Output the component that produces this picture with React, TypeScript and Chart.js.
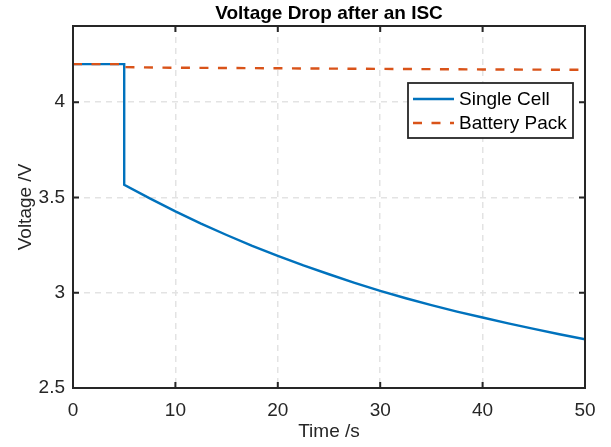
import React, { useEffect, useRef } from "react";
import { Chart, registerables } from "chart.js";

Chart.register(...registerables);

const chartTitle = "Voltage Drop after an ISC";
const xAxisTitle = "Time /s";
const yAxisTitle = "Voltage /V";
const seriesLabels = ["Single Cell", "Battery Pack"];

const cellTime = [0, 5, 5, 7.5, 10, 12.5, 15, 17.5, 20, 22.5, 25, 27.5, 30, 32.5, 35, 37.5, 40, 42.5, 45, 47.5, 50];
const cellVoltage = [4.2, 4.2, 3.567, 3.495, 3.427, 3.363, 3.303, 3.246, 3.193, 3.143, 3.097, 3.052, 3.01, 2.971, 2.935, 2.901, 2.87, 2.839, 2.81, 2.782, 2.756];

const packTime = [0, 5, 5, 10, 20, 30, 40, 50];
const packVoltage = [4.2, 4.2, 4.184, 4.181, 4.178, 4.175, 4.172, 4.17];

const xTicks = [0, 10, 20, 30, 40, 50];
const yTicks = [2.5, 3, 3.5, 4];

const FONT = "'Liberation Sans', Arial, Helvetica, sans-serif";
const TEXT = "#262626";
const BLUE = "#0072BD";
const ORANGE = "#D95319";

const boxPlugin = {
  id: "matlabBox",
  afterDatasetsDraw(chart: any) {
    const { ctx, chartArea: a, scales } = chart;
    ctx.save();
    ctx.strokeStyle = TEXT;
    ctx.lineWidth = 2;
    ctx.setLineDash([]);
    ctx.strokeRect(a.left, a.top, a.right - a.left, a.bottom - a.top);
    const tl = 6;
    ctx.beginPath();
    for (const v of xTicks) {
      const px = scales.x.getPixelForValue(v);
      ctx.moveTo(px, a.bottom);
      ctx.lineTo(px, a.bottom - tl);
      ctx.moveTo(px, a.top);
      ctx.lineTo(px, a.top + tl);
    }
    for (const v of yTicks) {
      const py = scales.y.getPixelForValue(v);
      ctx.moveTo(a.left, py);
      ctx.lineTo(a.left + tl, py);
      ctx.moveTo(a.right, py);
      ctx.lineTo(a.right - tl, py);
    }
    ctx.stroke();
    ctx.restore();
  },
  afterDraw(chart: any) {
    const { ctx, chartArea: a } = chart;
    const x0 = a.right - 177;
    const y0 = a.top + 57;
    const w = 165;
    const h = 55;
    ctx.save();
    ctx.fillStyle = "#ffffff";
    ctx.fillRect(x0, y0, w, h);
    ctx.strokeStyle = TEXT;
    ctx.lineWidth = 1.8;
    ctx.strokeRect(x0, y0, w, h);
    const rows = [y0 + 16, y0 + 40];
    chart.data.datasets.forEach((ds: any, i: number) => {
      const y = rows[i];
      ctx.beginPath();
      ctx.strokeStyle = ds.borderColor;
      ctx.lineWidth = ds.borderWidth;
      ctx.setLineDash(ds.borderDash || []);
      ctx.moveTo(x0 + 5, y);
      ctx.lineTo(x0 + 46, y);
      ctx.stroke();
      ctx.setLineDash([]);
      ctx.fillStyle = "#000000";
      ctx.font = `19px ${FONT}`;
      ctx.textAlign = "left";
      ctx.textBaseline = "middle";
      ctx.fillText(ds.label, x0 + 51, y + 1);
    });
    ctx.restore();
  },
};

export default function App() {
  const ref = useRef<HTMLCanvasElement>(null);
  useEffect(() => {
    if (!ref.current) return;
    Chart.defaults.font.family = FONT;
    const chart = new Chart(ref.current, {
      type: "line",
      data: {
        datasets: [
          {
            label: seriesLabels[0],
            data: cellTime.map((t, i) => ({ x: t, y: cellVoltage[i] })),
            borderColor: BLUE,
            borderWidth: 2.4,
            pointRadius: 0,
            tension: 0,
            fill: false,
            order: 1,
          },
          {
            label: seriesLabels[1],
            data: packTime.map((t, i) => ({ x: t, y: packVoltage[i] })),
            borderColor: ORANGE,
            borderWidth: 2.4,
            borderDash: [9, 9.5],
            pointRadius: 0,
            tension: 0,
            fill: false,
            order: 0,
          },
        ],
      },
      options: {
        responsive: false,
        animation: false,
        layout: { padding: { left: 0, right: 26, top: 0, bottom: 0 } },
        plugins: {
          legend: { display: false },
          tooltip: { enabled: false },
          title: {
            display: true,
            text: chartTitle,
            fullSize: false,
            color: "#000000",
            font: { size: 19, weight: "bold", family: FONT },
            padding: { top: 2, bottom: 1.2 },
          },
        },
        scales: {
          x: {
            type: "linear",
            min: 0,
            max: 50,
            afterBuildTicks: (s: any) => {
              s.ticks = xTicks.map((v) => ({ value: v }));
            },
            afterFit: (s: any) => {
              s.height = 59;
            },
            ticks: {
              color: TEXT,
              font: { size: 19, family: FONT },
              padding: 11,
              maxRotation: 0,
              callback: (v: any) => String(v),
            },
            grid: { color: "#e3e3e3", lineWidth: 1.5, drawTicks: false },
            border: { display: false, dash: [6, 5] },
            title: {
              display: true,
              text: xAxisTitle,
              color: TEXT,
              font: { size: 19, family: FONT },
              padding: { top: 0, bottom: 3.6 },
            },
          },
          y: {
            type: "linear",
            min: 2.5,
            max: 4.4,
            afterBuildTicks: (s: any) => {
              s.ticks = yTicks.map((v) => ({ value: v }));
            },
            afterFit: (s: any) => {
              s.width = 73;
            },
            ticks: {
              color: TEXT,
              font: { size: 19, family: FONT },
              padding: 8,
              callback: (v: any) => String(v),
            },
            grid: { color: "#e3e3e3", lineWidth: 1.5, drawTicks: false },
            border: { display: false, dash: [6, 5] },
            title: {
              display: true,
              text: yAxisTitle,
              color: TEXT,
              font: { size: 19, family: FONT },
              padding: { top: 14, bottom: 0 },
            },
          },
        },
      },
      plugins: [boxPlugin],
    } as any);
    return () => chart.destroy();
  }, []);
  return (
    <div style={{ position: "absolute", left: 0, top: 0, width: 611, height: 447, background: "#ffffff" }}>
      <canvas ref={ref} width={611} height={447} style={{ display: "block" }} />
    </div>
  );
}
